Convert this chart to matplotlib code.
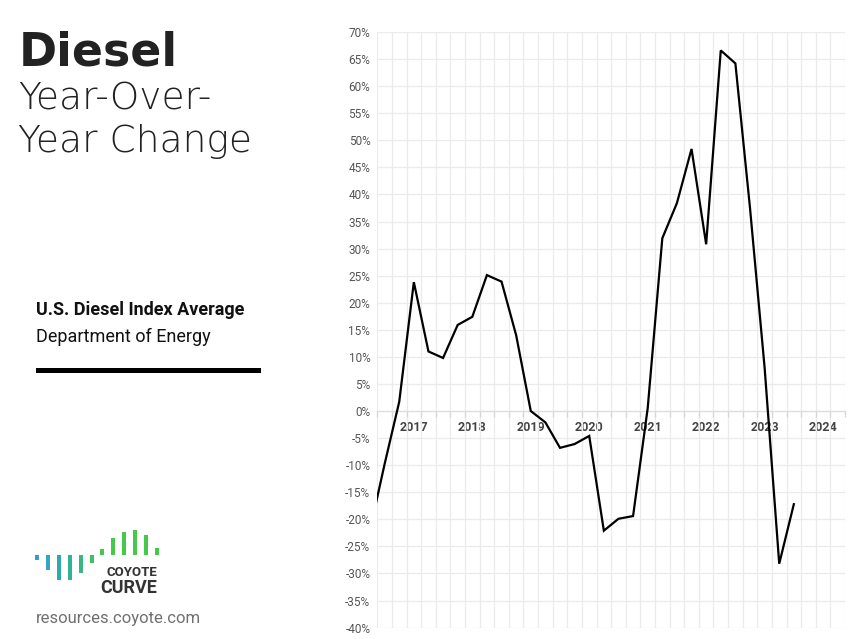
import matplotlib
matplotlib.use("Agg")
import matplotlib.pyplot as plt
import numpy as np

# ---------------- data ----------------
series_quarters = [
    "2016-Q2", "2016-Q3", "2016-Q4",
    "2017-Q1", "2017-Q2", "2017-Q3", "2017-Q4",
    "2018-Q1", "2018-Q2", "2018-Q3", "2018-Q4",
    "2019-Q1", "2019-Q2", "2019-Q3", "2019-Q4",
    "2020-Q1", "2020-Q2", "2020-Q3", "2020-Q4",
    "2021-Q1", "2021-Q2", "2021-Q3", "2021-Q4",
    "2022-Q1", "2022-Q2", "2022-Q3", "2022-Q4",
    "2023-Q1", "2023-Q2", "2023-Q3",
]
yoy_pct = [
    -22.0, -9.8, 1.7,
    23.8, 11.0, 9.8, 15.9,
    17.4, 25.1, 23.9, 14.0,
    0.0, -2.1, -6.8, -6.1,
    -4.6, -22.1, -19.9, -19.4,
    0.5, 31.9, 38.4, 48.4,
    30.8, 66.6, 64.2, 37.5,
    8.0, -28.2, -17.2,
]
axis_first = "2016-Q3"
axis_last = "2024-Q2"
year_labels = ["2017", "2018", "2019", "2020", "2021", "2022", "2023", "2024"]
y_ticks = list(range(-40, 75, 5))

# logo wave (decorative bars), heights relative to the logo baseline
logo_heights = [-5, -15, -25, -25, -18, -8, 6, 17, 23, 25, 20, 7]
logo_colors = ["#3a98d8", "#36a2c4", "#2ea9aa", "#31b197", "#38b881", "#3fbf68",
               "#46c64a", "#46c84a", "#46c84a", "#46c84a", "#46c84a", "#46c84a"]


def qpos(q):
    y, n = q.split("-Q")
    fy_, fn = axis_first.split("-Q")
    return (int(y) - int(fy_)) * 4 + int(n) - int(fn)


W, H = 851, 639
fig = plt.figure(figsize=(W / 100, H / 100), dpi=100)
fig.patch.set_facecolor("white")


def fx(px):
    return px / W


def fy(py):
    return 1 - py / H


# ---------------- main chart ----------------
left, right, top, bottom = 377.3, 845.0, 32.0, 627.6
ax = fig.add_axes([fx(left), fy(bottom), fx(right - left), (bottom - top) / H])
for s in ["top", "right", "left"]:
    ax.spines[s].set_visible(False)
ax.spines["bottom"].set_position(("data", 0))
ax.spines["bottom"].set_color("#dddddd")
ax.spines["bottom"].set_linewidth(0.9)
ax.set_facecolor("none")

xs = np.array([qpos(q) for q in series_quarters])
ax.plot(xs, yoy_pct, color="black", lw=1.6, zorder=5, solid_joinstyle="miter")

n_cat = qpos(axis_last) + 1
ax.set_xlim(-0.5, n_cat - 0.5)
ax.set_ylim(-40, 70)

ax.set_yticks(y_ticks)
ax.set_yticklabels([f"{v}%" for v in y_ticks], fontfamily="Roboto",
                   fontsize=8.5, color="#555555")
ax.tick_params(axis="y", length=0, pad=5)

ax.set_xticks(np.arange(-0.5, n_cat, 1.0), minor=True)
ax.set_xticks([qpos(f"{y}-Q1") for y in year_labels])
ax.set_xticklabels(year_labels, fontfamily="Roboto", fontweight="bold",
                   fontsize=9, color="#444444")
ax.tick_params(axis="x", which="major", length=0, pad=7)
ax.tick_params(axis="x", which="minor", length=4, width=0.9, color="#d6d6d6",
               direction="out")

ax.grid(True, which="minor", axis="x", color="#ebebeb", lw=0.9)
ax.grid(True, which="major", axis="y", color="#ebebeb", lw=0.9)
ax.set_axisbelow(True)

# ---------------- left panel texts ----------------
fig.text(fx(19), fy(65), "Diesel", family="DejaVu Sans", weight="bold",
         fontsize=33, color="#222222", va="baseline", ha="left")
fig.text(fx(18), fy(109), "Year-Over-", family="DejaVu Sans", weight=200,
         fontsize=27, color="#222222", va="baseline", ha="left")
fig.text(fx(18), fy(152), "Year Change", family="DejaVu Sans", weight=200,
         fontsize=27, color="#222222", va="baseline", ha="left")

fig.text(fx(36), fy(315), "U.S. Diesel Index Average", family="Roboto",
         weight="bold", fontsize=13, color="#111111", va="baseline")
fig.text(fx(36), fy(342), "Department of Energy", family="Roboto",
         fontsize=13, color="#111111", va="baseline")

bar_ax = fig.add_axes([fx(36), fy(372.5), fx(225), 5 / H])
bar_ax.axhspan(0, 1, color="black")
bar_ax.set_xlim(0, 1)
bar_ax.set_ylim(0, 1)
bar_ax.axis("off")

# ---------------- logo ----------------
lax = fig.add_axes([fx(32), fy(582), fx(130), 54 / H])
lax.bar(np.arange(len(logo_heights)), logo_heights, width=0.36,
        color=logo_colors, bottom=0)
lax.set_xlim(-0.5, len(logo_heights) - 0.5)
lax.set_ylim(-27, 27)
lax.axis("off")

fig.text(fx(157), fy(576), "COYOTE", family="Roboto", weight="bold",
         fontsize=9.5, color="#333333", ha="right", va="baseline")
fig.text(fx(157), fy(593), "CURVE", family="Roboto", weight="bold",
         fontsize=13, color="#333333", ha="right", va="baseline")
fig.text(fx(36), fy(623), "resources.coyote.com", family="Roboto",
         fontsize=12, color="#707070", ha="left", va="baseline")

fig.savefig("out.png", dpi=100)
